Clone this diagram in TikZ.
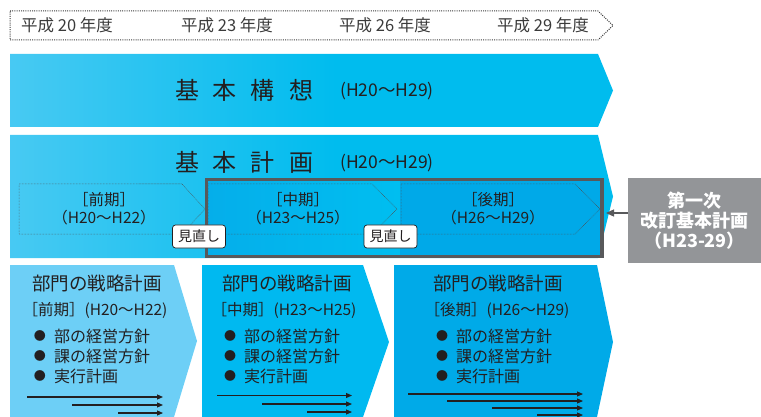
\documentclass[tikz,border=0pt]{standalone}
\usepackage{fontspec}
\setmainfont{Noto Sans CJK JP}
\usetikzlibrary{arrows.meta}
\definecolor{lb}{HTML}{8AD6F7}
\definecolor{cy}{HTML}{00BCEE}
\definecolor{txt}{HTML}{231F20}
\definecolor{tlgray}{HTML}{3A3A3A}
\definecolor{framegray}{HTML}{58595B}
\definecolor{revgray}{HTML}{939598}
\definecolor{bA}{HTML}{6DCFF6}
\definecolor{bB}{HTML}{00B9F0}
\definecolor{bC}{HTML}{00AAE8}
\definecolor{inA}{HTML}{05AEEA}
\definecolor{inB}{HTML}{00BEF0}
\definecolor{inC}{HTML}{00A9E8}
\pgfdeclarehorizontalshading{bannershade}{100bp}{color(0bp)=(lb); color(52bp)=(cy); color(100bp)=(cy)}
\tikzset{
  tltext/.style={font=\fontsize{16.5}{18}\selectfont, text=tlgray, inner sep=0},
  bigtitle/.style={font=\fontsize{24}{28}\selectfont, text=txt, inner sep=0},
  paren/.style={font=\fontsize{17.5}{20}\selectfont, text=txt, inner sep=0, anchor=west},
  phase/.style={font=\fontsize{15.5}{18}\selectfont, text=txt, inner sep=0, align=center},
  dotarrow/.style={draw=txt!80, line width=0.5pt, dash pattern=on 0.6pt off 0.9pt},
  review/.style={draw=txt, line width=0.7pt, fill=white, rounded corners=3pt, minimum width=53pt, minimum height=23pt, inner sep=0, font=\fontsize{14}{16}\selectfont, text=txt},
  deptitle/.style={font=\fontsize{18.5}{22}\selectfont, text=txt, inner sep=0},
  depterm/.style={font=\fontsize{15.5}{18}\selectfont, text=txt, inner sep=0},
  bul/.style={font=\fontsize{12}{14}\selectfont, text=txt, inner sep=0},
  item/.style={font=\fontsize{16}{18}\selectfont, text=txt, inner sep=0, anchor=west},
  barrow/.style={draw=txt, line width=1.1pt, -{Triangle[length=6pt,width=5pt]}},
}
\begin{document}
\begin{tikzpicture}[x=1pt,y=-1pt]
\useasboundingbox (0,0) rectangle (761,417);
% timeline
\draw[draw=tlgray, line width=1pt, dash pattern=on 1pt off 1.2pt] (10,11) -- (598,11) -- (613,25.5) -- (598,40) -- (10,40) -- cycle;
\node[tltext] (y20) at (67,25.5) {平成 20 年度};
\node[tltext] (y23) at (227,25.5) {平成 23 年度};
\node[tltext] (y26) at (385,25.5) {平成 26 年度};
\node[tltext] (y29) at (543,25.5) {平成 29 年度};
% banner 1
\path[shading=bannershade] (10,54) -- (598,54) -- (613,90.5) -- (598,127) -- (10,127) -- cycle;
\node[bigtitle] (kk) at (244,90) {基\hspace{14pt}本\hspace{14pt}構\hspace{14pt}想};
\node[paren] (kkp) at (340,91) {(H20〜H29)};
% banner 2
\path[shading=bannershade] (10,135) -- (598,135) -- (613,196.5) -- (598,258) -- (10,258) -- cycle;
\node[bigtitle] (kp) at (244,162) {基\hspace{14pt}本\hspace{14pt}計\hspace{14pt}画};
\node[paren] (kpp) at (340,163) {(H20〜H29)};
% frame interior
\shade[left color=inA, right color=inB] (206.5,179.5) rectangle (400,256.5);
\fill[inC] (400,179.5) rectangle (602,256.5);
% phase arrows
\draw[dotarrow] (19,184) -- (182,184) -- (205,209) -- (182,234) -- (19,234) -- cycle;
\draw[dotarrow] (208,184) -- (372,184) -- (397,209) -- (372,234) -- (208,234) -- cycle;
\draw[dotarrow] (401,184) -- (575,184) -- (600,209) -- (575,234) -- (401,234) -- cycle;
\node[phase] (ph1) at (104,209) {［前期］\\（H20〜H22）};
\node[phase] (ph2) at (298,209) {［中期］\\（H23〜H25）};
\node[phase] (ph3) at (493,209) {［後期］\\（H26〜H29）};
% frame
\draw[framegray, line width=3.5pt] (206.5,179.5) rectangle (602,256.5);
% review boxes
\node[review] (rv1) at (199,236.5) {見直し};
\node[review] (rv2) at (390.5,236.5) {見直し};
% revision box
\node[fill=revgray, minimum width=133pt, minimum height=85pt, inner sep=0, text=white, align=center, font=\bfseries\fontsize{18}{20}\selectfont] (rev) at (694.5,220.5) {第一次\\改訂基本計画\\（H23-29）};
\coordinate (arrE) at (606,213);
\draw[framegray, line width=1.3pt, -{Triangle[length=8pt,width=7pt]}] (rev.west |- arrE) -- (arrE);
% department boxes
\fill[bA] (10,265) -- (174,265) -- (197,341) -- (174,417) -- (10,417) -- cycle;
\fill[bB] (202,265) -- (363,265) -- (389,342) -- (363,417) -- (202,417) -- cycle;
\fill[bC] (394,265) -- (597,265) -- (613,342) -- (597,417) -- (394,417) -- cycle;
% box 1 text
\node[deptitle] (d1t) at (97,283) {部門の戦略計画};
\node[depterm] (d1p) at (95,310) {［前期］(H20〜H22)};
\node[bul] (d1b1) at (40,336) {●}; \node[item] (d1i1) at (54,336) {部の経営方針};
\node[bul] (d1b2) at (40,356) {●}; \node[item] (d1i2) at (54,356) {課の経営方針};
\node[bul] (d1b3) at (40,376) {●}; \node[item] (d1i3) at (54,376) {実行計画};
\draw[barrow] (27,397) -- (163,397);
\draw[barrow] (72,405) -- (163,405);
\draw[barrow] (118,413) -- (163,413);
% box 2 text
\node[deptitle] (d2t) at (287,283) {部門の戦略計画};
\node[depterm] (d2p) at (284,310) {［中期］(H23〜H25)};
\node[bul] (d2b1) at (230,336) {●}; \node[item] (d2i1) at (244,336) {部の経営方針};
\node[bul] (d2b2) at (230,356) {●}; \node[item] (d2i2) at (244,356) {課の経営方針};
\node[bul] (d2b3) at (230,376) {●}; \node[item] (d2i3) at (244,376) {実行計画};
\draw[barrow] (217,395.5) -- (352,395.5);
\draw[barrow] (262,404) -- (352,404);
\draw[barrow] (307,412) -- (352,412);
% box 3 text
\node[deptitle] (d3t) at (498,283) {部門の戦略計画};
\node[depterm] (d3p) at (497,310) {［後期］(H26〜H29)};
\node[bul] (d3b1) at (442,336) {●}; \node[item] (d3i1) at (456,336) {部の経営方針};
\node[bul] (d3b2) at (442,356) {●}; \node[item] (d3i2) at (456,356) {課の経営方針};
\node[bul] (d3b3) at (442,376) {●}; \node[item] (d3i3) at (456,376) {実行計画};
\draw[barrow] (408,394) -- (583,394);
\draw[barrow] (447,401) -- (583,401);
\draw[barrow] (492,408) -- (583,408);
\draw[barrow] (537,415) -- (583,415);
\end{tikzpicture}
\end{document}
